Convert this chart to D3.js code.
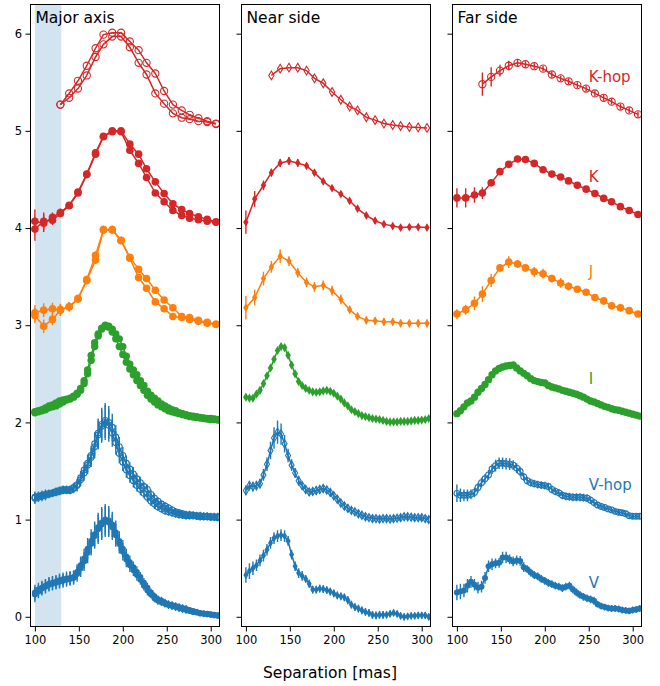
<!DOCTYPE html>
<html>
<head>
<meta charset="utf-8">
<script src="https://cdn.jsdelivr.net/npm/d3@7"></script>
<style>
  body { margin: 0; background: #fff; }
  svg { display: block; font-family: 'DejaVu Sans', sans-serif; }
</style>
</head>
<body>
<div id="chart"></div>
<script>
// separations (mas)
const sepDense = [100, 104, 108, 112, 116, 120, 124, 128, 132, 136,
  140, 144, 148, 152, 156, 160, 164, 168, 172, 176,
  180, 184, 188, 192, 196, 200, 204, 208, 212, 216,
  220, 224, 228, 232, 236, 240, 244, 248, 252, 256,
  260, 264, 268, 272, 276, 280, 284, 288, 292, 296,
  300, 304, 308]
const sepBand = [100, 110, 120, 129, 139, 149, 159, 169, 178, 188, 198, 208, 218, 227, 237, 247, 257, 267, 276, 286, 296, 306]
const sepHop = [129, 139, 149, 159, 169, 178, 188, 198, 208, 218, 227, 237, 247, 257, 267, 276, 286, 296, 306]

const sepTicks = [100, 150, 200, 250, 300]
const valTicks = [0, 1, 2, 3, 4, 5, 6]

// ---- Major axis (two sides of the axis) ----
const majorVA = [0.25, 0.28, 0.30, 0.32, 0.34, 0.35, 0.36, 0.375, 0.385, 0.395,
  0.40, 0.41, 0.46, 0.53, 0.60, 0.70, 0.78, 0.85, 0.92, 0.97,
  1.00, 0.99, 0.95, 0.87, 0.78, 0.70, 0.62, 0.56, 0.51, 0.46,
  0.41, 0.35, 0.30, 0.25, 0.21, 0.18, 0.165, 0.145, 0.13, 0.12,
  0.11, 0.10, 0.09, 0.08, 0.07, 0.06, 0.05, 0.04, 0.035, 0.03,
  0.025, 0.02, 0.015]
const majorVB = [0.23, 0.26, 0.29, 0.31, 0.33, 0.34, 0.35, 0.36, 0.37, 0.38,
  0.39, 0.40, 0.44, 0.50, 0.57, 0.66, 0.75, 0.83, 0.90, 0.95,
  0.98, 0.97, 0.92, 0.84, 0.75, 0.67, 0.59, 0.53, 0.48, 0.43,
  0.38, 0.32, 0.27, 0.23, 0.19, 0.165, 0.15, 0.135, 0.12, 0.11,
  0.10, 0.09, 0.08, 0.07, 0.06, 0.05, 0.045, 0.035, 0.03, 0.025,
  0.02, 0.015, 0.01]
const errMajorV = [.08, .07, .07, .07, .07, .07, .07, .07, .07, .07,
  .07, .07, .08, .09, .10, .11, .12, .13, .15, .16,
  .16, .15, .13, .12, .10, .09, .08, .07, .06, .06,
  .05, .05, .05, .04, .04, .04, .04, .04, .04, .04,
  .04, .04, .04, .04, .03, .03, .03, .03, .03, .03,
  .03, .03, .03]

const majorVhopA = [1.23, 1.24, 1.25, 1.26, 1.27, 1.275, 1.29, 1.30, 1.31, 1.31,
  1.31, 1.33, 1.36, 1.43, 1.51, 1.58, 1.66, 1.78, 1.89, 1.98,
  2.02, 2.00, 1.95, 1.85, 1.75, 1.66, 1.58, 1.52, 1.47, 1.42,
  1.38, 1.34, 1.31, 1.26, 1.22, 1.19, 1.16, 1.14, 1.12, 1.10,
  1.08, 1.07, 1.06, 1.05, 1.05, 1.045, 1.04, 1.04, 1.035, 1.035,
  1.03, 1.03, 1.03]
const majorVhopB = [1.22, 1.23, 1.24, 1.25, 1.26, 1.27, 1.28, 1.29, 1.30, 1.30,
  1.30, 1.32, 1.35, 1.41, 1.48, 1.56, 1.64, 1.75, 1.87, 1.96,
  2.00, 1.97, 1.89, 1.79, 1.68, 1.59, 1.51, 1.45, 1.40, 1.35,
  1.31, 1.27, 1.23, 1.19, 1.16, 1.13, 1.11, 1.09, 1.08, 1.07,
  1.06, 1.05, 1.045, 1.04, 1.04, 1.04, 1.035, 1.03, 1.03, 1.03,
  1.025, 1.025, 1.02]
const errMajorVhop = [.06, .05, .05, .05, .04, .04, .04, .04, .04, .04,
  .04, .05, .06, .07, .08, .09, .10, .12, .15, .17,
  .18, .17, .14, .12, .10, .09, .08, .07, .07, .06,
  .06, .05, .05, .05, .05, .04, .04, .04, .04, .04,
  .04, .04, .04, .04, .04, .04, .04, .04, .04, .04,
  .04, .04, .04]

const majorIA = [2.11, 2.12, 2.13, 2.15, 2.17, 2.18, 2.20, 2.22, 2.23, 2.24,
  2.25, 2.27, 2.30, 2.35, 2.43, 2.54, 2.69, 2.82, 2.91, 2.97,
  3.00, 2.99, 2.96, 2.91, 2.86, 2.78, 2.68, 2.60, 2.54, 2.49,
  2.43, 2.38, 2.32, 2.28, 2.25, 2.22, 2.19, 2.17, 2.15, 2.13,
  2.12, 2.10, 2.09, 2.08, 2.07, 2.065, 2.06, 2.05, 2.045, 2.04,
  2.04, 2.035, 2.03]
const majorIB = [2.10, 2.11, 2.12, 2.13, 2.15, 2.16, 2.17, 2.19, 2.21, 2.23,
  2.24, 2.26, 2.29, 2.33, 2.40, 2.50, 2.64, 2.78, 2.89, 2.96,
  2.99, 2.98, 2.93, 2.86, 2.78, 2.70, 2.62, 2.55, 2.49, 2.43,
  2.38, 2.33, 2.28, 2.24, 2.21, 2.18, 2.16, 2.14, 2.12, 2.11,
  2.10, 2.09, 2.08, 2.07, 2.06, 2.055, 2.05, 2.045, 2.04, 2.035,
  2.03, 2.03, 2.025]

const majorJA = [3.128, 3.155, 3.17, 3.16, 3.19, 3.275, 3.47, 3.72, 3.985, 3.985, 3.875, 3.70, 3.575, 3.48, 3.36, 3.26, 3.18, 3.09, 3.08, 3.05, 3.03, 3.01]
const majorJB = [3.10, 2.99, 3.06, 3.155, 3.19, 3.27, 3.46, 3.67, 3.98, 3.98, 3.87, 3.69, 3.49, 3.38, 3.24, 3.17, 3.09, 3.08, 3.06, 3.04, 3.02, 3.01]
const errMajorJ = [.08, .07, .06, .06, .05, .04, .04, .04, .04, .04, .03, .03, .03, .03, .03, .03, .03, .03, .03, .03, .03, .03]

const majorKA = [4.07, 4.05, 4.11, 4.16, 4.235, 4.37, 4.555, 4.775, 4.945, 5.0, 5.0, 4.863, 4.76, 4.61, 4.475, 4.355, 4.25, 4.19, 4.15, 4.115, 4.09, 4.065]
const majorKB = [3.99, 4.07, 4.08, 4.15, 4.23, 4.36, 4.55, 4.76, 4.94, 4.99, 4.99, 4.80, 4.665, 4.52, 4.36, 4.27, 4.18, 4.13, 4.10, 4.085, 4.07, 4.06]
const errMajorK = [.12, .09, .05, .04, .03, .03, .03, .03, .03, .03, .03, .03, .03, .03, .03, .03, .03, .03, .03, .03, .03, .03]

const majorKhopA = [5.27, 5.385, 5.515, 5.67, 5.85, 5.99, 6.01, 6.01, 5.92, 5.83, 5.70, 5.59, 5.41, 5.27, 5.21, 5.165, 5.13, 5.10, 5.075]
const majorKhopB = [5.27, 5.34, 5.435, 5.57, 5.76, 5.89, 5.97, 5.97, 5.86, 5.70, 5.58, 5.385, 5.28, 5.18, 5.135, 5.12, 5.10, 5.09, 5.07]

// ---- Near side ----
const nearV = [0.43, 0.47, 0.50, 0.53, 0.58, 0.63, 0.69, 0.76, 0.81, 0.83,
  0.84, 0.83, 0.78, 0.64, 0.52, 0.45, 0.42, 0.39, 0.34, 0.28,
  0.28, 0.29, 0.285, 0.275, 0.26, 0.24, 0.22, 0.21, 0.20, 0.17,
  0.125, 0.10, 0.085, 0.065, 0.05, 0.04, 0.02, 0.015, 0.02, 0.02,
  0.02, 0.03, 0.04, 0.03, 0.01, 0.0, 0.005, 0.01, 0.01, 0.015,
  0.015, 0.015, 0.0]
const errNearV = [.08, .08, .07, .06, .06, .06, .06, .06, .06, .06,
  .06, .06, .05, .05, .05, .05, .05, .04, .04, .04,
  .04, .04, .04, .04, .04, .04, .04, .04, .04, .04,
  .04, .04, .04, .04, .04, .04, .04, .04, .04, .04,
  .035, .035, .035, .035, .035, .035, .035, .035, .035, .035,
  .035, .035, .035]

const nearVhop = [1.30, 1.35, 1.34, 1.35, 1.37, 1.46, 1.57, 1.71, 1.84, 1.90,
  1.88, 1.78, 1.66, 1.56, 1.48, 1.40, 1.35, 1.31, 1.285, 1.29,
  1.30, 1.31, 1.32, 1.305, 1.28, 1.245, 1.21, 1.17, 1.14, 1.115,
  1.095, 1.08, 1.06, 1.045, 1.03, 1.02, 1.01, 1.01, 1.005, 1.01,
  1.01, 1.005, 1.01, 1.015, 1.02, 1.03, 1.03, 1.025, 1.02, 1.02,
  1.02, 1.01, 1.00]
const errNearVhop = [.05, .05, .05, .05, .05, .06, .07, .09, .11, .12,
  .11, .09, .07, .06, .05, .05, .04, .04, .04, .04,
  .04, .04, .04, .04, .04, .04, .04, .04, .04, .04,
  .035, .035, .035, .035, .035, .035, .035, .035, .035, .035,
  .035, .035, .035, .035, .035, .035, .035, .035, .035, .035,
  .035, .035, .035]

const nearI = [2.26, 2.25, 2.25, 2.29, 2.33, 2.40, 2.48, 2.56, 2.65, 2.74,
  2.78, 2.77, 2.69, 2.59, 2.50, 2.42, 2.38, 2.35, 2.33, 2.315,
  2.31, 2.315, 2.325, 2.33, 2.32, 2.30, 2.27, 2.24, 2.20, 2.17,
  2.13, 2.11, 2.09, 2.07, 2.06, 2.05, 2.04, 2.035, 2.03, 2.02,
  2.01, 2.005, 2.005, 2.005, 2.01, 2.01, 2.01, 2.015, 2.02, 2.02,
  2.025, 2.03, 2.04]

const nearJ = [3.18, 3.285, 3.48, 3.60, 3.71, 3.66, 3.54, 3.44, 3.395, 3.41, 3.355, 3.265, 3.16, 3.09, 3.05, 3.045, 3.035, 3.035, 3.02, 3.02, 3.02, 3.02]
const errNearJ = [.12, .08, .07, .06, .07, .05, .05, .05, .05, .05, .05, .05, .04, .04, .04, .04, .04, .04, .04, .04, .04, .04]
const nearK = [4.06, 4.30, 4.44, 4.57, 4.67, 4.69, 4.67, 4.64, 4.57, 4.48, 4.41, 4.35, 4.28, 4.20, 4.13, 4.075, 4.04, 4.02, 4.005, 4.01, 4.01, 4.005]
const errNearK = [.12, .08, .05, .04, .04, .04, .04, .03, .03, .03, .03, .03, .03, .03, .03, .03, .03, .03, .03, .03, .03, .03]
const nearKhop = [5.57, 5.64, 5.65, 5.65, 5.62, 5.54, 5.49, 5.40, 5.32, 5.25, 5.21, 5.14, 5.11, 5.075, 5.06, 5.05, 5.04, 5.035, 5.03]

// ---- Far side ----
const farV = [0.25, 0.26, 0.27, 0.32, 0.36, 0.33, 0.30, 0.31, 0.40, 0.52,
  0.54, 0.55, 0.555, 0.61, 0.61, 0.59, 0.57, 0.58, 0.575, 0.51,
  0.49, 0.455, 0.43, 0.415, 0.39, 0.37, 0.35, 0.335, 0.32, 0.31,
  0.295, 0.31, 0.32, 0.28, 0.25, 0.225, 0.205, 0.19, 0.18, 0.165,
  0.13, 0.11, 0.10, 0.09, 0.085, 0.085, 0.08, 0.07, 0.065, 0.06,
  0.07, 0.075, 0.085]
const errFarV = [.08, .08, .07, .07, .06, .06, .06, .06, .06, .06,
  .06, .05, .05, .06, .06, .05, .05, .05, .05, .05,
  .04, .04, .04, .04, .04, .04, .04, .04, .04, .04,
  .04, .04, .04, .04, .04, .04, .04, .04, .04, .04,
  .035, .035, .035, .035, .035, .035, .035, .035, .035, .035,
  .035, .035, .035]

const farVhop = [1.27, 1.25, 1.25, 1.25, 1.26, 1.28, 1.33, 1.38, 1.42, 1.46,
  1.52, 1.555, 1.58, 1.58, 1.575, 1.57, 1.56, 1.53, 1.495, 1.44,
  1.40, 1.38, 1.37, 1.36, 1.355, 1.35, 1.34, 1.31, 1.29, 1.275,
  1.25, 1.24, 1.235, 1.23, 1.23, 1.23, 1.225, 1.22, 1.20, 1.175,
  1.15, 1.135, 1.125, 1.11, 1.10, 1.085, 1.075, 1.07, 1.06, 1.04,
  1.035, 1.035, 1.035]
const errFarVhop = [.09, .07, .06, .06, .05, .05, .05, .05, .05, .05,
  .05, .06, .06, .06, .06, .06, .05, .05, .05, .04,
  .04, .04, .04, .04, .04, .04, .04, .04, .04, .04,
  .04, .04, .04, .04, .04, .04, .04, .04, .04, .04,
  .03, .03, .03, .03, .03, .03, .03, .03, .03, .03,
  .03, .03, .03]

const farI = [2.09, 2.12, 2.16, 2.20, 2.22, 2.26, 2.31, 2.35, 2.39, 2.44,
  2.49, 2.53, 2.555, 2.57, 2.58, 2.585, 2.59, 2.56, 2.53, 2.505,
  2.48, 2.45, 2.43, 2.42, 2.41, 2.405, 2.38, 2.365, 2.355, 2.345,
  2.33, 2.32, 2.31, 2.30, 2.29, 2.275, 2.26, 2.24, 2.22, 2.21,
  2.195, 2.18, 2.165, 2.155, 2.14, 2.13, 2.125, 2.115, 2.105, 2.095,
  2.085, 2.075, 2.065]

const farJ = [3.115, 3.16, 3.225, 3.32, 3.46, 3.59, 3.65, 3.63, 3.59, 3.55, 3.53, 3.48, 3.435, 3.40, 3.37, 3.34, 3.285, 3.25, 3.20, 3.18, 3.15, 3.115]
const errFarJ = [.05, .05, .07, .08, .07, .04, .06, .04, .04, .05, .05, .04, .05, .04, .03, .03, .03, .04, .03, .04, .03, .03]
const farK = [4.31, 4.31, 4.34, 4.36, 4.465, 4.58, 4.655, 4.71, 4.705, 4.665, 4.60, 4.555, 4.525, 4.485, 4.44, 4.40, 4.355, 4.305, 4.27, 4.22, 4.18, 4.14]
const errFarK = [.10, .10, .08, .06, .03, .03, .03, .03, .03, .03, .03, .03, .03, .03, .03, .03, .03, .03, .03, .03, .03, .03]
const farKhop = [5.48, 5.555, 5.62, 5.67, 5.70, 5.685, 5.665, 5.64, 5.58, 5.54, 5.51, 5.47, 5.435, 5.385, 5.34, 5.30, 5.25, 5.21, 5.17]
const errFarKhop = [.12, .10, .06, .05, .04, .03, .03, .03, .03, .03, .03, .03, .03, .03, .03, .03, .03, .03, .03]

const bandNames = ['V', 'V-hop', 'I', 'J', 'K', 'K-hop']
const bandLabelY = [0.3, 1.3, 2.4, 3.5, 4.47, 5.5]
const bandColor = { 'V': '#1f77b4', 'V-hop': '#1f77b4', 'I': '#2ca02c', 'J': '#ff7f0e', 'K': '#d62728', 'K-hop': '#d62728' }
const titles = ['Major axis', 'Near side', 'Far side']
const shade = [100, 130]

// panel, band, x, y, err, open marker, marker radius
const series = [
  { p: 0, band: 'V', x: sepDense, y: majorVA, err: errMajorV, open: false, r: 3 },
  { p: 0, band: 'V', x: sepDense, y: majorVB, err: errMajorV, open: false, r: 3 },
  { p: 0, band: 'V-hop', x: sepDense, y: majorVhopA, err: errMajorVhop, open: true, r: 2.9 },
  { p: 0, band: 'V-hop', x: sepDense, y: majorVhopB, err: errMajorVhop, open: true, r: 2.9 },
  { p: 0, band: 'I', x: sepDense, y: majorIA, err: null, open: false, r: 3.7 },
  { p: 0, band: 'I', x: sepDense, y: majorIB, err: null, open: false, r: 3.7 },
  { p: 0, band: 'J', x: sepBand, y: majorJA, err: errMajorJ, open: false, r: 3.8 },
  { p: 0, band: 'J', x: sepBand, y: majorJB, err: errMajorJ, open: false, r: 3.8 },
  { p: 0, band: 'K', x: sepBand, y: majorKA, err: errMajorK, open: false, r: 3.8 },
  { p: 0, band: 'K', x: sepBand, y: majorKB, err: errMajorK, open: false, r: 3.8 },
  { p: 0, band: 'K-hop', x: sepHop, y: majorKhopA, err: null, open: true, r: 3.6 },
  { p: 0, band: 'K-hop', x: sepHop, y: majorKhopB, err: null, open: true, r: 3.6 },

  { p: 1, band: 'V', x: sepDense, y: nearV, err: errNearV, open: false, r: 3.6 },
  { p: 1, band: 'V-hop', x: sepDense, y: nearVhop, err: errNearVhop, open: true, r: 3.6 },
  { p: 1, band: 'I', x: sepDense, y: nearI, err: null, open: false, r: 4 },
  { p: 1, band: 'J', x: sepBand, y: nearJ, err: errNearJ, open: false, r: 3.8 },
  { p: 1, band: 'K', x: sepBand, y: nearK, err: errNearK, open: false, r: 3.8 },
  { p: 1, band: 'K-hop', x: sepHop, y: nearKhop, err: null, open: true, r: 3.8 },

  { p: 2, band: 'V', x: sepDense, y: farV, err: errFarV, open: false, r: 3 },
  { p: 2, band: 'V-hop', x: sepDense, y: farVhop, err: errFarVhop, open: true, r: 2.9 },
  { p: 2, band: 'I', x: sepDense, y: farI, err: null, open: false, r: 3.7 },
  { p: 2, band: 'J', x: sepBand, y: farJ, err: errFarJ, open: false, r: 3.8 },
  { p: 2, band: 'K', x: sepBand, y: farK, err: errFarK, open: false, r: 3.8 },
  { p: 2, band: 'K-hop', x: sepHop, y: farKhop, err: errFarKhop, open: true, r: 3.6 },
]

const W = 660, H = 686
const panelLeft = [30.5, 241.5, 452.5]
const panelW = 189
const plotTop = 4.5, plotBottom = 626.5

const svg = d3.select('#chart').append('svg').attr('width', W).attr('height', H)
const y = d3.scaleLinear().domain([-0.1, 6.3]).range([plotBottom, plotTop])

// thin diamond for the near side
const diamond = r => `M0,${-r * 1.15}L${r * 0.7},0L0,${r * 1.15}L${-r * 0.7},0Z`

panelLeft.forEach((left, i) => {
  const x = d3.scaleLinear().domain([95, 310]).range([left, left + panelW])
  const g = svg.append('g')

  svg.append('clipPath').attr('id', 'clip' + i)
    .append('rect').attr('x', left).attr('y', plotTop).attr('width', panelW).attr('height', plotBottom - plotTop)

  const plot = g.append('g').attr('clip-path', `url(#clip${i})`)

  if (i === 0) {
    plot.append('rect')
      .attr('x', x(shade[0])).attr('width', x(shade[1]) - x(shade[0]))
      .attr('y', plotTop).attr('height', plotBottom - plotTop)
      .attr('fill', '#1f77b4').attr('fill-opacity', 0.2)
  }

  const line = d3.line().x(d => x(d[0])).y(d => y(d[1]))

  series.filter(s => s.p === i).forEach(s => {
    const col = bandColor[s.band]
    const pts = s.x.map((v, k) => [v, s.y[k], s.err ? s.err[k] : 0])
    const sg = plot.append('g')

    if (s.err) {
      sg.selectAll('line.err').data(pts).enter().append('line')
        .attr('x1', d => x(d[0])).attr('x2', d => x(d[0]))
        .attr('y1', d => y(d[1] - d[2])).attr('y2', d => y(d[1] + d[2]))
        .attr('stroke', col).attr('stroke-width', 1.4)
    }

    sg.append('path').attr('d', line(pts))
      .attr('fill', 'none').attr('stroke', col).attr('stroke-width', 1.5)

    const marks = sg.selectAll('.m').data(pts).enter()
    const m = i === 1
      ? marks.append('path').attr('d', diamond(s.r)).attr('transform', d => `translate(${x(d[0])},${y(d[1])})`)
      : marks.append('circle').attr('cx', d => x(d[0])).attr('cy', d => y(d[1])).attr('r', s.r)
    if (s.open) m.attr('fill', 'none').attr('stroke', col).attr('stroke-width', 1.1)
    else m.attr('fill', col)
  })

  // axes
  const xAxis = d3.axisBottom(x).tickValues(sepTicks).tickSize(5).tickPadding(4.5)
  const gx = g.append('g').attr('transform', `translate(0,${plotBottom})`).call(xAxis)
  const yAxis = d3.axisLeft(y).tickValues(valTicks).tickSize(5).tickPadding(3.5)
    .tickFormat(i > 0 ? '' : d3.format('d'))
  const gy = g.append('g').attr('transform', `translate(${left},0)`).call(yAxis)
  ;[gx, gy].forEach(a => {
    a.select('.domain').remove()
    a.selectAll('text').attr('font-size', '11.5px').attr('font-family', "'DejaVu Sans', sans-serif").attr('fill', '#000')
    a.selectAll('line').attr('stroke', '#000')
  })

  g.append('rect').attr('x', left).attr('y', plotTop).attr('width', panelW).attr('height', plotBottom - plotTop)
    .attr('fill', 'none').attr('stroke', '#000').attr('stroke-width', 1)

  g.append('text').attr('x', left + 5).attr('y', 23)
    .attr('font-size', '15.5px').attr('fill', '#000').text(titles[i])

  if (i === 2) {
    bandNames.forEach((b, k) => {
      g.append('text').attr('x', x(250)).attr('y', y(bandLabelY[k]))
        .attr('font-size', '15px').attr('fill', bandColor[b]).text(b)
    })
  }
})

svg.append('text').attr('x', 330).attr('y', 678).attr('text-anchor', 'middle')
  .attr('font-size', '15.5px').attr('fill', '#000').text('Separation [mas]')
</script>
</body>
</html>
